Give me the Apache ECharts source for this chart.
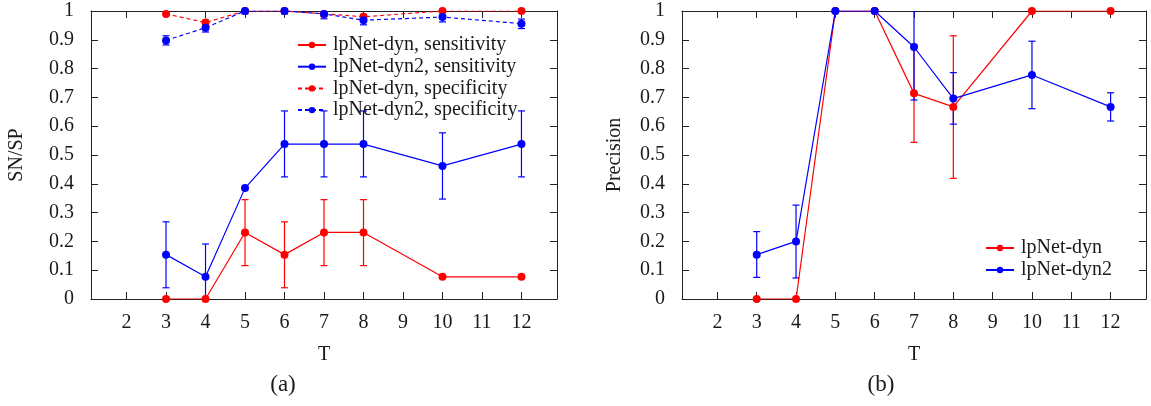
<!DOCTYPE html>
<html><head><meta charset="utf-8">
<script src="https://cdn.jsdelivr.net/npm/echarts@6/dist/echarts.min.js"></script>
<style>html,body{margin:0;padding:0;background:#fff}#c{width:1151px;height:406px}</style>
</head><body><div id="c"></div>
<script>
// ---- data ----
const T = [3, 4, 5, 6, 7, 8, 10, 12];
const xTickValues = [2, 3, 4, 5, 6, 7, 8, 9, 10, 11, 12];

// (a) sensitivity / specificity
const snDyn      = [0, 0, 0.231, 0.154, 0.231, 0.231, 0.077, 0.077];
const snDynLow   = [0, 0, 0.116, 0.039, 0.116, 0.116, 0.077, 0.077];
const snDynHigh  = [0, 0, 0.345, 0.268, 0.345, 0.345, 0.077, 0.077];
const snDyn2     = [0.154, 0.077, 0.385, 0.538, 0.538, 0.538, 0.462, 0.538];
const snDyn2Low  = [0.039, 0, 0.385, 0.424, 0.424, 0.424, 0.347, 0.424];
const snDyn2High = [0.268, 0.191, 0.385, 0.653, 0.653, 0.653, 0.577, 0.653];
const spDyn      = [0.99, 0.96, 1, 1, 0.99, 0.98, 1, 1];
const spDynLow   = [0.99, 0.952, 1, 1, 0.98, 0.972, 1, 1];
const spDynHigh  = [0.99, 0.968, 1, 1, 1, 0.988, 1, 1];
const spDyn2     = [0.898, 0.942, 1, 1, 0.99, 0.968, 0.979, 0.956];
const spDyn2Low  = [0.882, 0.927, 0.99, 0.99, 0.973, 0.952, 0.962, 0.939];
const spDyn2High = [0.914, 0.957, 1, 1, 1, 0.984, 0.995, 0.972];

// (b) precision
const prDyn      = [0, 0, 1, 1, 0.714, 0.667, 1, 1];
const prDynLow   = [0, 0, 1, 1, 0.544, 0.419, 1, 1];
const prDynHigh  = [0, 0, 1, 1, 0.884, 0.914, 1, 1];
const prDyn2     = [0.154, 0.2, 1, 1, 0.875, 0.696, 0.778, 0.667];
const prDyn2Low  = [0.075, 0.073, 1, 1, 0.691, 0.607, 0.661, 0.618];
const prDyn2High = [0.234, 0.326, 1, 1, 1, 0.786, 0.895, 0.716];

const RED = '#ff0000', BLUE = '#0000ff';
const FONT = 'Liberation Serif';
const TXT = '#1a1a1a';
const FS = 20;

function pts(vals) { return T.map((t, i) => [t, vals[i]]); }
function errData(lo, hi) { return T.map((t, i) => [t, lo[i], hi[i]]); }

function errRender(color) {
  return function (params, api) {
    const x = api.value(0), lo = api.value(1), hi = api.value(2);
    if (!(hi - lo > 0)) return null;
    const p1 = api.coord([x, hi]), p2 = api.coord([x, lo]);
    const w = 3.5;
    const style = { stroke: color, lineWidth: 1.2, fill: null };
    return { type: 'group', children: [
      { type: 'line', shape: { x1: p1[0], y1: p1[1], x2: p2[0], y2: p2[1] }, style },
      { type: 'line', shape: { x1: p1[0] - w, y1: p1[1], x2: p1[0] + w, y2: p1[1] }, style },
      { type: 'line', shape: { x1: p2[0] - w, y1: p2[1], x2: p2[0] + w, y2: p2[1] }, style }
    ]};
  };
}

function lineSeries(name, vals, color, dashed, gi) {
  return {
    type: 'line', name, xAxisIndex: gi * 2, yAxisIndex: gi * 2,
    data: pts(vals), symbol: 'circle', symbolSize: 8, showSymbol: true,
    itemStyle: { color },
    lineStyle: { color, width: 1.2, type: dashed ? [4, 3] : 'solid' },
    emphasis: { disabled: true }, z: 3
  };
}
function errSeries(name, lo, hi, color, gi) {
  return {
    type: 'custom', name, xAxisIndex: gi * 2, yAxisIndex: gi * 2,
    data: errData(lo, hi), renderItem: errRender(color),
    encode: { x: 0, y: [1, 2] }, clip: true, z: 2
  };
}

const axisLineStyle = { color: '#222', width: 1 };
function xAxes(gi) {
  const base = {
    type: 'value', gridIndex: gi, min: 1.1, max: 12.9,
    splitLine: { show: false },
    axisLine: { show: true, onZero: false, lineStyle: axisLineStyle },
    axisTick: { show: true, inside: true, length: 7, customValues: xTickValues, lineStyle: axisLineStyle }
  };
  return [
    Object.assign({}, base, {
      position: 'bottom',
      axisLabel: { show: true, customValues: xTickValues, fontFamily: FONT, fontSize: FS, color: TXT, margin: 14 },
      name: 'T', nameLocation: 'middle', nameGap: 46,
      nameTextStyle: { fontFamily: FONT, fontSize: FS, color: TXT }
    }),
    Object.assign({}, base, { position: 'top', axisLabel: { show: false } })
  ];
}
function yAxes(gi, name, gap) {
  const base = {
    type: 'value', gridIndex: gi, min: 0, max: 1, interval: 0.1,
    splitLine: { show: false },
    axisLine: { show: true, onZero: false, lineStyle: axisLineStyle },
    axisTick: { show: true, inside: true, length: 7, lineStyle: axisLineStyle }
  };
  return [
    Object.assign({}, base, {
      position: 'left',
      axisLabel: { show: true, fontFamily: FONT, fontSize: FS, color: TXT, margin: 17,
                   showMinLabel: true, showMaxLabel: true },
      name, nameLocation: 'middle', nameGap: gap, nameRotate: 90,
      nameTextStyle: { fontFamily: FONT, fontSize: FS, color: TXT }
    }),
    Object.assign({}, base, { position: 'right', axisLabel: { show: false } })
  ];
}

const legendText = { fontFamily: FONT, fontSize: FS, color: TXT, lineHeight: 20, padding: [0, 0, 0, 2] };

const option = {
  animation: false,
  backgroundColor: '#fff',
  grid: [
    { left: 91, top: 11, width: 466, height: 288 },
    { left: 682, top: 11, width: 464, height: 288 }
  ],
  xAxis: [...xAxes(0), ...xAxes(1)],
  yAxis: [...yAxes(0, 'SN/SP', 64), ...yAxes(1, 'Precision', 57)],
  title: [
    { text: '(a)', left: 278, top: 368, textAlign: 'center',
      textStyle: { fontFamily: FONT, fontSize: 23, fontWeight: 'normal', color: TXT } },
    { text: '(b)', left: 876, top: 368, textAlign: 'center',
      textStyle: { fontFamily: FONT, fontSize: 23, fontWeight: 'normal', color: TXT } }
  ],
  legend: [
    { orient: 'vertical', left: 292, top: 30, itemWidth: 28, itemHeight: 8, itemGap: 1.7,
      data: ['lpNet-dyn, sensitivity', 'lpNet-dyn2, sensitivity', 'lpNet-dyn, specificity', 'lpNet-dyn2, specificity'],
      textStyle: legendText, selectedMode: false },
    { orient: 'vertical', left: 980, top: 233, itemWidth: 28, itemHeight: 8, itemGap: 2,
      data: ['lpNet-dyn', 'lpNet-dyn2'], textStyle: legendText, selectedMode: false }
  ],
  series: [
    errSeries('e1', snDynLow, snDynHigh, RED, 0),
    lineSeries('lpNet-dyn, sensitivity', snDyn, RED, false, 0),
    errSeries('e2', snDyn2Low, snDyn2High, BLUE, 0),
    lineSeries('lpNet-dyn2, sensitivity', snDyn2, BLUE, false, 0),
    errSeries('e3', spDynLow, spDynHigh, RED, 0),
    lineSeries('lpNet-dyn, specificity', spDyn, RED, true, 0),
    errSeries('e4', spDyn2Low, spDyn2High, BLUE, 0),
    lineSeries('lpNet-dyn2, specificity', spDyn2, BLUE, true, 0),
    errSeries('e5', prDynLow, prDynHigh, RED, 1),
    lineSeries('lpNet-dyn', prDyn, RED, false, 1),
    errSeries('e6', prDyn2Low, prDyn2High, BLUE, 1),
    lineSeries('lpNet-dyn2', prDyn2, BLUE, false, 1)
  ]
};
echarts.init(document.getElementById('c'), null, { renderer: 'canvas' }).setOption(option);
</script></body></html>
